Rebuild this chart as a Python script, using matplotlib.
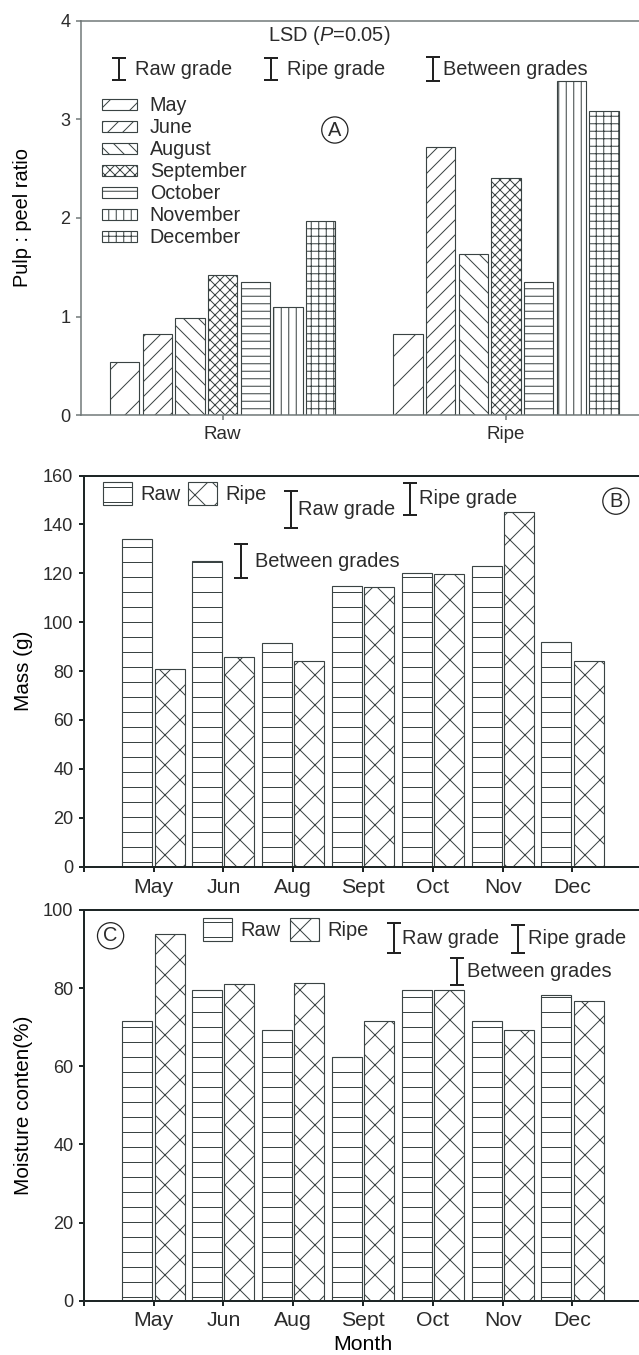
import matplotlib
matplotlib.use('Agg')
import matplotlib.pyplot as plt
import numpy as np

plt.rcParams['font.family'] = ['Liberation Sans', 'DejaVu Sans']
plt.rcParams['mathtext.fontset'] = 'custom'
plt.rcParams['mathtext.rm'] = 'Liberation Sans'
plt.rcParams['mathtext.it'] = 'Liberation Sans:italic'
plt.rcParams['hatch.linewidth'] = 0.8
plt.rcParams['text.color'] = '#2b2b2b'
plt.rcParams['xtick.color'] = '#2b2b2b'
plt.rcParams['ytick.color'] = '#2b2b2b'

# ---------------- data ----------------
grades = ['Raw', 'Ripe']
a_months = ['May', 'June', 'August', 'September', 'October', 'November', 'December']
a_hatches = ['/', '//', '\\\\', 'xxx', '--', '||', '++']
ratio_raw = [0.54, 0.82, 0.99, 1.42, 1.35, 1.10, 1.97]
ratio_ripe = [0.82, 2.72, 1.64, 2.41, 1.35, 3.39, 3.08]
lsd_labels = ['Raw grade', 'Ripe grade', 'Between grades']
lsd_ratio = [0.22, 0.22, 0.24]

months = ['May', 'Jun', 'Aug', 'Sept', 'Oct', 'Nov', 'Dec']
mass_raw = [134.1, 125.2, 91.3, 115.0, 120.1, 122.8, 91.7]
mass_ripe = [81.0, 85.9, 84.0, 114.5, 119.9, 145.2, 84.0]
lsd_mass = [15.1, 13.2, 13.9]

moist_raw = [71.7, 79.4, 69.3, 62.3, 79.4, 71.5, 78.3]
moist_ripe = [93.8, 81.0, 81.4, 71.7, 79.4, 69.3, 76.6]
lsd_moist = [7.7, 7.2, 7.0]

# ---------------- figure ----------------
W, H, DPI = 639, 1355, 90
fig = plt.figure(figsize=(W / DPI, H / DPI), dpi=DPI)


def axpos(l, r, t, b):
    return [l / W, 1 - b / H, (r - l) / W, (b - t) / H]


EC = '#3a4343'
ERRC = '#222222'


def lsd_bar(ax, x, y, v, label, tx, fs=16):
    ax.errorbar(x, y, yerr=v / 2, fmt='none', ecolor=ERRC, elinewidth=1.6,
                capsize=5.6, capthick=1.6)
    ax.text(tx, y, label, va='center', ha='left', fontsize=fs)


def circ(ax, x, y, s):
    ax.text(x, y, s, ha='center', va='center', fontsize=16,
            bbox=dict(boxstyle='circle,pad=0.18', fc='white', ec='#222222', lw=1.0))


def style(ax, spc, lw):
    for s in ['left', 'bottom', 'top']:
        ax.spines[s].set_color(spc)
        ax.spines[s].set_linewidth(lw)
    ax.spines['right'].set_visible(False)
    ax.tick_params(axis='both', direction='out', length=4, width=lw, color=spc)


# ---------------- Panel A ----------------
axA = fig.add_axes(axpos(81, 647.6, 20.7, 415.3))
gx = np.arange(len(grades))
pitch, bw = 0.1154, 0.104
for i, (m, h) in enumerate(zip(a_months, a_hatches)):
    axA.bar(gx + (i - 3) * pitch, [ratio_raw[i], ratio_ripe[i]], bw,
            color='white', edgecolor=EC, hatch=h, linewidth=0.9, label=m)
axA.set_xlim(-0.5, 1.5)
axA.set_ylim(0, 4)
axA.set_xticks(gx)
axA.set_xticklabels(grades, fontsize=15)
axA.set_yticks(range(0, 5))
axA.tick_params(axis='y', labelsize=14.5, pad=4.5)
style(axA, '#6e7676', 1.2)
axA.tick_params(axis='x', pad=4.5)
axA.set_ylabel('Pulp : peel ratio', fontsize=16, va='center')
axA.yaxis.set_label_coords(-0.104, 0.5)
axA.text(0.375, 3.845, r'LSD ($\mathit{P}$=0.05)', ha='center', va='center', fontsize=16)
lsd_bar(axA, -0.366, 3.51, lsd_ratio[0], lsd_labels[0], -0.31)
lsd_bar(axA, 0.172, 3.51, lsd_ratio[1], lsd_labels[1], 0.226)
lsd_bar(axA, 0.741, 3.51, lsd_ratio[2], lsd_labels[2], 0.778)
circ(axA, 0.396, 2.892, 'A')
axA.legend(loc='upper left', bbox_to_anchor=(0.037, 0.808), borderaxespad=0,
           borderpad=0, frameon=False, fontsize=15.8, handlelength=1.77,
           handleheight=0.5, handletextpad=0.65, labelspacing=0.15)

# ---------------- Panel B ----------------
x = np.arange(1, len(months) + 1)
off, w2 = 0.23, 0.43
axB = fig.add_axes(axpos(83.7, 642.3, 475.5, 866.7))
axB.bar(x - off, mass_raw, w2, color='white', edgecolor=EC, hatch='-', linewidth=0.9, label='Raw')
axB.bar(x + off, mass_ripe, w2, color='white', edgecolor=EC, hatch='x', linewidth=0.9, label='Ripe')
axB.set_xlim(0, 8)
axB.set_ylim(0, 160)
axB.set_xticks(np.arange(0, 9))
axB.set_xticklabels([''] + months + [''], fontsize=17)
axB.set_yticks(range(0, 161, 20))
style(axB, '#1e2626', 1.6)
axB.tick_params(axis='y', labelsize=14.5, pad=4.3)
axB.tick_params(axis='x', pad=5)
axB.set_ylabel('Mass (g)', fontsize=16.5, va='center')
axB.yaxis.set_label_coords(-0.1076, 0.5)
axB.legend(loc='upper left', bbox_to_anchor=(0.0346, 0.983), borderaxespad=0,
           borderpad=0, frameon=False, fontsize=16, ncol=2, handlelength=1.45,
           handleheight=1.4, handletextpad=0.4, columnspacing=0.4)
lsd_bar(axB, 2.966, 146.0, lsd_mass[0], lsd_labels[0], 3.07)
lsd_bar(axB, 4.675, 150.4, lsd_mass[1], lsd_labels[1], 4.80)
lsd_bar(axB, 2.246, 125.0, lsd_mass[2], lsd_labels[2], 2.454)
circ(axB, 7.622, 149.5, 'B')

# ---------------- Panel C ----------------
axC = fig.add_axes(axpos(83.7, 642.3, 910, 1300.7))
axC.bar(x - off, moist_raw, w2, color='white', edgecolor=EC, hatch='-', linewidth=0.9, label='Raw')
axC.bar(x + off, moist_ripe, w2, color='white', edgecolor=EC, hatch='x', linewidth=0.9, label='Ripe')
axC.set_xlim(0, 8)
axC.set_ylim(0, 100)
axC.set_xticks(np.arange(0, 9))
axC.set_xticklabels([''] + months + [''], fontsize=17)
axC.set_yticks(range(0, 101, 20))
style(axC, '#1e2626', 1.6)
axC.tick_params(axis='y', labelsize=14.5, pad=4.3)
axC.tick_params(axis='x', pad=4)
axC.set_ylabel('Moisture conten(%)', fontsize=16.5, va='center')
axC.yaxis.set_label_coords(-0.107, 0.5)
axC.set_xlabel('Month', fontsize=17, va='center')
axC.xaxis.set_label_coords(0.5, -0.111)
axC.legend(loc='upper left', bbox_to_anchor=(0.2136, 0.9795), borderaxespad=0,
           borderpad=0, frameon=False, fontsize=16, ncol=2, handlelength=1.45,
           handleheight=1.4, handletextpad=0.4, columnspacing=0.5)
lsd_bar(axC, 4.445, 92.8, lsd_moist[0], lsd_labels[0], 4.56)
lsd_bar(axC, 6.222, 92.6, lsd_moist[1], lsd_labels[1], 6.365)
lsd_bar(axC, 5.348, 84.3, lsd_moist[2], lsd_labels[2], 5.49)
circ(axC, 0.385, 93.4, 'C')

fig.savefig('out.png', dpi=DPI, facecolor='white')
